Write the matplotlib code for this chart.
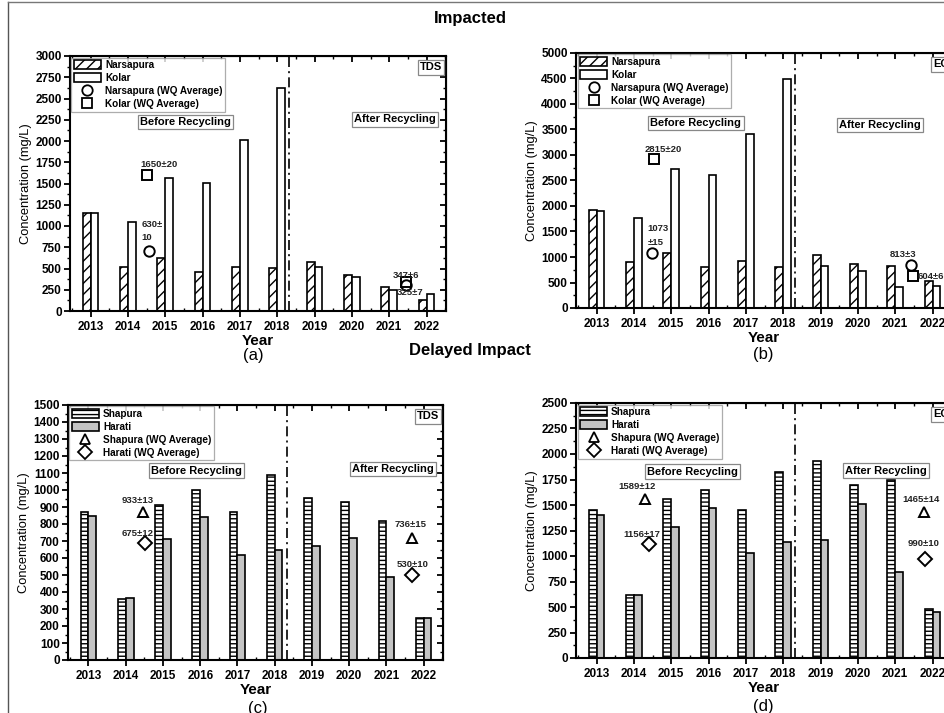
import matplotlib
matplotlib.use("Agg")
import matplotlib.pyplot as plt
from matplotlib.patches import Patch
from matplotlib.lines import Line2D
from matplotlib.ticker import MultipleLocator

plt.rcParams['font.family'] = ['Liberation Sans', 'DejaVu Sans']
plt.rcParams['hatch.linewidth'] = 1.0

years = [2013, 2014, 2015, 2016, 2017, 2018, 2019, 2020, 2021, 2022]

# (a) TDS impacted
narsapura_tds = [1150, 520, 620, 460, 520, 510, 580, 420, 280, 130]
kolar_tds = [1150, 1050, 1560, 1510, 2010, 2620, 520, 405, 250, 205]
# (b) EC impacted
narsapura_ec = [1920, 900, 1070, 810, 930, 810, 1030, 860, 830, 530]
kolar_ec = [1900, 1760, 2730, 2600, 3420, 4490, 820, 730, 420, 430]
# (c) TDS delayed
shapura_tds = [870, 360, 910, 1000, 870, 1090, 955, 930, 815, 250]
harati_tds = [850, 365, 710, 840, 620, 650, 670, 720, 490, 250]
# (d) EC delayed
shapura_ec = [1450, 615, 1555, 1650, 1450, 1820, 1930, 1700, 1750, 480]
harati_ec = [1400, 620, 1285, 1470, 1030, 1135, 1160, 1505, 840, 450]

# WQ averages: (x, y)
a_kolar_avg_x = [2014.51, 2021.45]
a_kolar_avg_y = [1604, 340]
a_nars_avg_x = [2014.57, 2021.45]
a_nars_avg_y = [706, 305]
b_kolar_avg_x = [2014.53, 2021.47]
b_kolar_avg_y = [2923, 622]
b_nars_avg_x = [2014.49, 2021.42]
b_nars_avg_y = [1088, 839]
c_shap_avg_x = [2014.46, 2021.68]
c_shap_avg_y = [872, 716]
c_har_avg_x = [2014.51, 2021.68]
c_har_avg_y = [690, 500]
d_shap_avg_x = [2014.30, 2021.78]
d_shap_avg_y = [1558, 1434]
d_har_avg_x = [2014.40, 2021.80]
d_har_avg_y = [1122, 968]

# annotation labels: (text, x, y, ha)
a_labels = [("1650\u00b120", 2014.82, 1725, 'center'), ("630\u00b1\n10", 2014.37, 940, 'left'),
            ("347\u00b16", 2021.45, 420, 'center'), ("325\u00b17", 2021.56, 212, 'center')]
b_labels = [("2815\u00b120", 2014.79, 3100, 'center'), ("1073\n\u00b115", 2014.36, 1420, 'left'),
            ("813\u00b13", 2021.2, 1048, 'center'), ("604\u00b16", 2021.6, 622, 'left')]
c_labels = [("933\u00b113", 2014.31, 941, 'center'), ("675\u00b112", 2014.31, 745, 'center'),
            ("736\u00b115", 2021.66, 798, 'center'), ("530\u00b110", 2021.71, 559, 'center')]
d_labels = [("1589\u00b112", 2014.09, 1680, 'center'), ("1156\u00b117", 2014.21, 1214, 'center'),
            ("1465\u00b114", 2021.69, 1555, 'center'), ("990\u00b110", 2021.75, 1122, 'center')]

W, H = 945, 713
fig = plt.figure(figsize=(W / 100, H / 100), dpi=100)


def ax_at(left, top, width=376, height=255):
    return fig.add_axes([left / W, 1 - (top + height) / H, width / W, height / H])


bw = 0.21
box_style = dict(boxstyle='square,pad=0.2', fc='white', ec='#888888', lw=0.9)


def panel(ax, s1, s2, style1, style2, ymax, ymaj, label_box, before_xy, after_xy,
          avg1, avg2, m1, m2, labels, names):
    x1 = [y - bw / 2 for y in years]
    x2 = [y + bw / 2 for y in years]
    ax.bar(x1, s1, width=bw, **style1, zorder=2)
    ax.bar(x2, s2, width=bw, **style2, zorder=2)
    ax.plot(avg1[0], avg1[1], linestyle='none', marker=m1, ms=7.5, mfc='none', mec='black', mew=1.4, zorder=3)
    ax.plot(avg2[0], avg2[1], linestyle='none', marker=m2, ms=7.5 if m2 != 'D' else 7,
            mfc='none', mec='black', mew=1.4, zorder=3)
    for t, x, y, ha in labels:
        ax.text(x, y, t, ha=ha, va='center', fontsize=6.8, fontweight='bold', color='#222222',
                linespacing=1.6, zorder=4)
    ax.set_xlim(2012.45, 2022.52)
    ax.set_ylim(0, ymax)
    ax.axvline(2018.32, color='black', lw=1.2, linestyle=(0, (6, 2.5, 1.2, 2.5)), zorder=1)
    ax.set_xticks(years)
    ax.set_xticklabels([str(y) for y in years])
    ax.xaxis.set_minor_locator(MultipleLocator(0.5))
    ax.yaxis.set_major_locator(MultipleLocator(ymaj))
    ax.yaxis.set_minor_locator(MultipleLocator(ymaj / 2))
    for lab in ax.get_xticklabels() + ax.get_yticklabels():
        lab.set_fontweight('bold')
        lab.set_fontsize(8.5)
    ax.tick_params(axis='y', which='major', direction='out', length=4, width=1.3, pad=2)
    ax.tick_params(axis='y', which='minor', direction='out', length=2, width=1.0)
    ax.tick_params(axis='x', which='major', direction='out', length=4, width=1.3, pad=3)
    ax.tick_params(axis='x', which='minor', direction='in', length=2, width=1.0)
    for sp in ax.spines.values():
        sp.set_linewidth(1.5)
    sy = ax.secondary_yaxis('right')
    sy.yaxis.set_major_locator(MultipleLocator(ymaj))
    sy.yaxis.set_minor_locator(MultipleLocator(ymaj / 2))
    sy.tick_params(which='major', direction='in', length=4, width=1.3, labelright=False)
    sy.tick_params(which='minor', direction='in', length=2, width=1.0)
    sx = ax.secondary_xaxis('top')
    sx.set_xticks(years)
    sx.xaxis.set_minor_locator(MultipleLocator(0.5))
    sx.tick_params(which='major', direction='in', length=4, width=1.3, labeltop=False)
    sx.tick_params(which='minor', direction='in', length=2, width=1.0)
    ax.set_xlabel('Year', fontsize=11, fontweight='bold', labelpad=1)
    ax.set_ylabel('Concentration (mg/L)', fontsize=9.3, labelpad=2)
    ax.text(0.99, 0.975, label_box, transform=ax.transAxes, ha='right', va='top',
            fontsize=8, fontweight='bold', bbox=box_style, zorder=5)
    ax.text(before_xy[0], before_xy[1], 'Before Recycling', ha='center', va='center',
            fontsize=8, fontweight='bold', bbox=box_style, zorder=5)
    ax.text(after_xy[0], after_xy[1], 'After Recycling', ha='center', va='center',
            fontsize=8, fontweight='bold', bbox=box_style, zorder=5)
    handles = [Patch(**style1), Patch(**style2),
               Line2D([], [], linestyle='none', marker=m1, ms=7.5, mfc='none', mec='black', mew=1.3),
               Line2D([], [], linestyle='none', marker=m2, ms=7.5 if m2 != 'D' else 7, mfc='none', mec='black', mew=1.3)]
    leg = ax.legend(handles, names, loc='upper left', frameon=True, fancybox=False,
                    borderaxespad=0.15, handlelength=2.7, handleheight=1.0, labelspacing=0.3,
                    borderpad=0.25, handletextpad=0.4, prop={'weight': 'bold', 'size': 7.2})
    leg.get_frame().set_edgecolor('#999999')
    leg.get_frame().set_linewidth(0.9)
    leg.set_zorder(6)


nars_style = dict(facecolor='white', edgecolor='black', hatch='///', linewidth=1.2)
kolar_style = dict(facecolor='white', edgecolor='black', linewidth=1.2)
shap_style = dict(facecolor='white', edgecolor='black', hatch='----', linewidth=1.2)
har_style = dict(facecolor='#c4c4c4', edgecolor='black', linewidth=1.2)

ax_a = ax_at(70, 56)
panel(ax_a, narsapura_tds, kolar_tds, nars_style, kolar_style, 3000, 250, 'TDS',
      (2015.55, 2223), (2021.15, 2255), (a_nars_avg_x, a_nars_avg_y), (a_kolar_avg_x, a_kolar_avg_y),
      'o', 's', a_labels, ['Narsapura', 'Kolar', 'Narsapura (WQ Average)', 'Kolar (WQ Average)'])

ax_b = ax_at(576, 53)
panel(ax_b, narsapura_ec, kolar_ec, nars_style, kolar_style, 5000, 500, 'EC',
      (2015.66, 3624), (2020.6, 3591), (b_nars_avg_x, b_nars_avg_y), (b_kolar_avg_x, b_kolar_avg_y),
      'o', 's', b_labels, ['Narsapura', 'Kolar', 'Narsapura (WQ Average)', 'Kolar (WQ Average)'])

ax_c = ax_at(68, 405, width=375)
panel(ax_c, shapura_tds, harati_tds, shap_style, har_style, 1500, 100, 'TDS',
      (2015.9, 1114), (2021.17, 1123), (c_shap_avg_x, c_shap_avg_y), (c_har_avg_x, c_har_avg_y),
      '^', 'D', c_labels, ['Shapura', 'Harati', 'Shapura (WQ Average)', 'Harati (WQ Average)'])

ax_d = ax_at(576, 403)
panel(ax_d, shapura_ec, harati_ec, shap_style, har_style, 2500, 250, 'EC',
      (2015.57, 1827), (2020.75, 1837), (d_shap_avg_x, d_shap_avg_y), (d_har_avg_x, d_har_avg_y),
      '^', 'D', d_labels, ['Shapura', 'Harati', 'Shapura (WQ Average)', 'Harati (WQ Average)'])

# headings and panel letters
fig.text(470 / W, 1 - 18 / H, 'Impacted', ha='center', va='center', fontsize=12, fontweight='bold')
fig.text(470 / W, 1 - 351 / H, 'Delayed Impact', ha='center', va='center', fontsize=12, fontweight='bold')
fig.text(253 / W, 1 - 355 / H, '(a)', ha='center', va='center', fontsize=12)
fig.text(763 / W, 1 - 354 / H, '(b)', ha='center', va='center', fontsize=12)
fig.text(258 / W, 1 - 709 / H, '(c)', ha='center', va='center', fontsize=12)
fig.text(763 / W, 1 - 707 / H, '(d)', ha='center', va='center', fontsize=12)

# outer frame lines
fig.add_artist(Line2D([8 / W, 8 / W], [0, 1 - 2 / H], transform=fig.transFigure, color='#555555', lw=1.0))
fig.add_artist(Line2D([8 / W, 1], [1 - 2 / H, 1 - 2 / H], transform=fig.transFigure, color='#777777', lw=1.0))

fig.savefig('out.png', dpi=100)
